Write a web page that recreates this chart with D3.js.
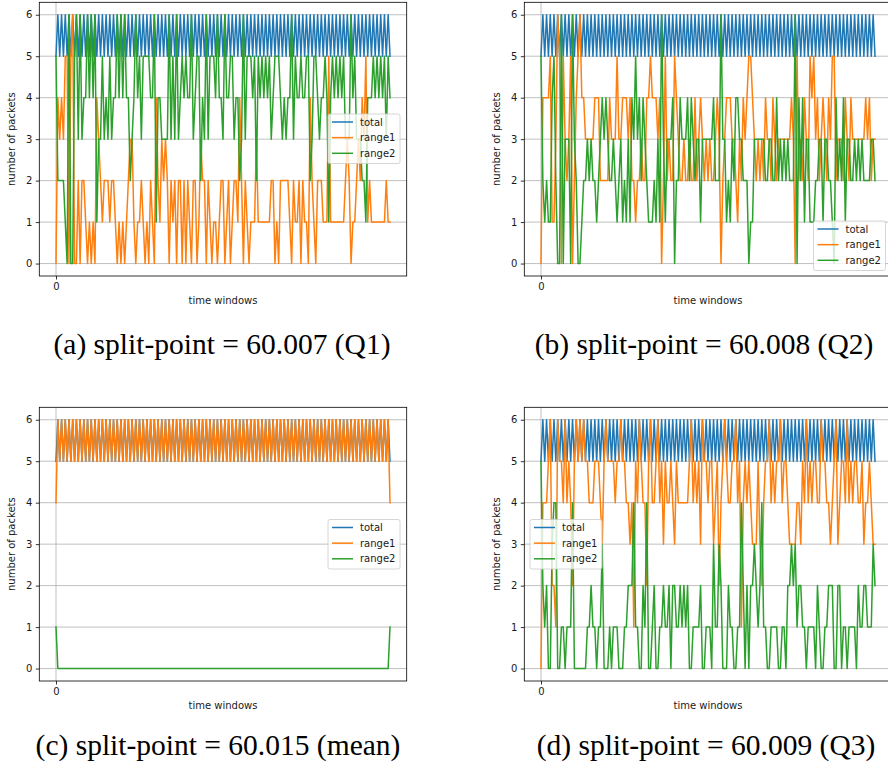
<!DOCTYPE html>
<html>
<head>
<meta charset="utf-8">
<script src="https://cdn.jsdelivr.net/npm/d3@7/dist/d3.min.js"></script>
<style>
  html, body { margin: 0; padding: 0; background: #ffffff; }
  svg { display: block; }
  .tick text { font-family: "DejaVu Sans", sans-serif; font-size: 10px; fill: #1a1a1a; }
</style>
</head>
<body>
<svg id="fig" width="888" height="769"></svg>
<script>
// ---- data: packets per time window ----
const total = [
  5,6,5,6,5,6,5,6,5,6, 5,6,5,6,5,6,5,6,5,6, 5,6,5,6,5,6,5,6,5,6,
  5,6,5,6,5,6,5,6,5,6, 5,6,5,6,5,6,5,6,5,6, 5,6,5,6,5,6,5,6,5,6,
  5,6,5,6,5,6,5,6,5,6, 5,6,5,6,5,6,5,6,5,6, 5,6,5,6,5,6,5,6,5,6,
  5,6,5,6,5,6,5,6,5,6, 5,6,5,6,5,6,5,6,5,6, 5,6,5,6,5,6,5,6,5,6,
  5,6,5,6,5,6,5,6,5,6, 5,6,5,6,5,6,5,6,5,6, 5,6,5,6,5,6,5,6,5,6,
  5,6,5,6,5,6,5,6,5,6, 5,6,5,6,5,6,5,6,5,6, 5,6,5,6,5,6,5,6,5,6,
  5
];

// (a) split-point = 60.007
const rangeA1 = [
  0,4,3,4,3,5,5,0,5,6, 0,0,2,0,2,2,1,0,1,0, 1,0,4,3,2,1,2,2,2,1,
  2,2,1,0,1,0,1,0,1,2, 3,3,1,0,1,1,2,1,0,1, 0,2,1,0,4,2,1,3,2,3,
  2,0,2,1,2,0,2,2,0,2, 0,2,1,0,2,2,0,1,3,2, 2,0,2,1,0,1,1,0,1,2,
  2,0,1,2,0,1,2,2,1,4, 2,0,2,1,0,1,1,1,3,1, 1,1,1,1,1,1,2,2,0,1,
  0,2,2,2,2,2,1,0,2,1, 1,2,0,2,1,1,0,4,2,1, 0,2,2,2,1,1,1,5,1,1,
  1,1,1,1,1,1,2,3,2,0, 1,1,2,3,2,4,3,5,1,2, 1,1,1,1,1,1,1,1,2,1,
  1
];
const rangeA2 = [
  5,2,2,2,2,1,0,6,0,0, 5,6,3,6,3,4,4,6,4,6, 4,6,1,3,3,5,3,4,3,5,
  3,4,4,6,4,6,4,6,4,4, 2,3,4,6,4,5,3,5,5,5, 5,4,4,6,1,4,4,3,3,3,
  3,6,3,5,3,6,3,4,5,4, 5,4,4,6,3,4,5,5,2,4, 3,6,3,5,5,5,4,6,4,4,
  3,6,4,4,5,5,3,4,4,2, 3,6,3,5,5,5,4,5,2,5, 4,5,4,5,4,5,3,4,5,5,
  5,4,3,4,3,4,4,6,3,5, 4,4,5,4,4,5,5,2,3,5, 5,4,3,4,4,5,4,1,4,5,
  4,5,4,5,4,5,3,3,3,6, 4,5,3,3,3,2,2,1,4,4, 4,5,4,5,4,5,4,5,3,5,
  4
];

// (b) split-point = 60.008
const rangeB1 = [
  0,4,4,4,4,5,1,1,3,6, 5,0,5,3,2,3,5,0,2,4, 5,6,4,4,3,3,3,3,3,4,
  4,4,2,2,2,2,2,4,3,3, 3,5,3,3,4,4,4,3,4,2, 2,1,2,2,3,2,2,4,4,5,
  4,4,4,3,4,0,2,5,2,3, 2,2,5,4,3,2,2,3,2,2, 3,2,2,4,2,3,4,3,2,3,
  2,3,2,2,3,4,3,0,2,3, 4,4,4,3,3,2,1,3,2,4, 3,4,5,5,4,3,2,3,2,3,
  2,4,3,3,2,4,3,2,3,3, 3,3,3,3,3,4,3,0,5,2, 3,2,4,3,2,5,4,5,3,4,
  2,3,4,3,2,4,3,5,5,2, 3,3,3,2,4,3,2,4,3,3, 3,3,3,3,3,4,3,4,2,3,
  3
];
const rangeB2 = [
  5,2,1,2,1,1,4,5,2,0, 0,6,0,3,3,3,0,6,3,2, 0,0,1,2,2,3,2,3,2,2,
  1,2,3,4,3,4,3,2,2,3, 2,1,2,3,1,2,1,3,1,4, 3,5,3,4,2,4,3,2,1,1,
  1,2,1,3,1,6,3,1,3,3, 3,4,0,2,2,4,3,3,3,4, 2,4,3,2,3,3,1,3,3,3,
  3,3,3,4,2,2,2,6,3,3, 1,2,1,3,2,4,4,3,3,2, 2,2,0,1,1,3,3,3,3,3,
  3,2,2,3,3,2,2,4,2,3, 2,3,2,3,2,2,2,6,0,4, 2,4,1,3,3,1,1,1,2,2,
  3,3,1,3,3,2,2,1,0,4, 2,3,2,4,1,3,3,2,2,3, 2,3,2,3,2,2,2,2,3,3,
  2
];

// (c) split-point = 60.015
const rangeC1 = [
  4,6,5,6,5,6,5,6,5,6, 5,6,5,6,5,6,5,6,5,6, 5,6,5,6,5,6,5,6,5,6,
  5,6,5,6,5,6,5,6,5,6, 5,6,5,6,5,6,5,6,5,6, 5,6,5,6,5,6,5,6,5,6,
  5,6,5,6,5,6,5,6,5,6, 5,6,5,6,5,6,5,6,5,6, 5,6,5,6,5,6,5,6,5,6,
  5,6,5,6,5,6,5,6,5,6, 5,6,5,6,5,6,5,6,5,6, 5,6,5,6,5,6,5,6,5,6,
  5,6,5,6,5,6,5,6,5,6, 5,6,5,6,5,6,5,6,5,6, 5,6,5,6,5,6,5,6,5,6,
  5,6,5,6,5,6,5,6,5,6, 5,6,5,6,5,6,5,6,5,6, 5,6,5,6,5,6,5,6,5,6,
  4
];
const rangeC2 = [
  1,0,0,0,0,0,0,0,0,0, 0,0,0,0,0,0,0,0,0,0, 0,0,0,0,0,0,0,0,0,0,
  0,0,0,0,0,0,0,0,0,0, 0,0,0,0,0,0,0,0,0,0, 0,0,0,0,0,0,0,0,0,0,
  0,0,0,0,0,0,0,0,0,0, 0,0,0,0,0,0,0,0,0,0, 0,0,0,0,0,0,0,0,0,0,
  0,0,0,0,0,0,0,0,0,0, 0,0,0,0,0,0,0,0,0,0, 0,0,0,0,0,0,0,0,0,0,
  0,0,0,0,0,0,0,0,0,0, 0,0,0,0,0,0,0,0,0,0, 0,0,0,0,0,0,0,0,0,0,
  0,0,0,0,0,0,0,0,0,0, 0,0,0,0,0,0,0,0,0,0, 0,0,0,0,0,0,0,0,0,0,
  1
];

// (d) split-point = 60.009
const rangeD1 = [
  0,4,4,4,5,6,2,2,1,6, 5,5,4,6,4,5,4,2,5,6, 5,6,5,6,5,5,4,4,4,5,
  5,5,4,3,5,6,5,5,5,5, 4,5,5,6,5,5,4,4,3,4, 1,5,4,6,5,4,4,2,5,6,
  4,4,5,6,4,5,3,5,4,4, 5,4,3,5,4,4,4,4,4,4, 5,6,4,5,4,5,3,6,5,5,
  4,5,5,3,4,5,2,4,5,6, 5,4,4,5,5,6,4,5,1,4, 5,4,5,4,3,3,3,5,3,2,
  4,5,5,6,4,5,4,5,5,6, 4,5,5,4,3,3,3,3,4,4, 3,5,4,6,4,5,4,5,5,4,
  4,6,5,5,4,4,3,4,5,6, 3,4,5,5,4,6,4,5,4,5, 5,4,4,5,3,4,4,5,4,3,
  3
];
const rangeD2 = [
  5,2,1,2,0,0,3,4,4,0, 0,1,1,0,1,1,1,4,0,0, 0,0,0,0,0,1,1,2,1,1,
  0,1,1,3,0,0,0,1,0,1, 1,1,0,0,0,1,1,2,2,2, 4,1,1,0,0,2,1,4,0,0,
  1,2,0,0,1,1,2,1,1,2, 0,2,2,1,1,2,1,2,1,2, 0,0,1,1,1,1,2,0,0,1,
  1,1,0,3,1,1,3,2,0,0, 0,2,1,1,0,0,1,1,4,2, 0,2,0,2,2,3,2,1,2,4,
  1,1,0,0,1,1,1,1,0,0, 1,1,0,2,2,3,2,3,1,2, 2,1,1,0,1,1,1,1,0,2,
  1,0,0,1,1,2,2,2,0,0, 2,2,0,1,1,0,1,1,1,1, 0,2,1,1,2,2,1,1,1,3,
  2
];

const seriesNames  = ["total", "range1", "range2"];
const seriesColors = ["#1f77b4", "#ff7f0e", "#2ca02c"];
const yTicks = [0, 1, 2, 3, 4, 5, 6];
const xTicks = [0];
const captions = [
  "(a) split-point = 60.007 (Q1)",
  "(b) split-point = 60.008 (Q2)",
  "(c) split-point = 60.015 (mean)",
  "(d) split-point = 60.009 (Q3)"
];

// ---- layout ----
const axW = 367.4, axH = 273.7;
const panels = [
  { left: 39.3,  top: 2.3,   series: [total, rangeA1, rangeA2], caption: captions[0], capX: 222, capY: 354, legend: [328, 114] },
  { left: 524.3, top: 2.3,   series: [total, rangeB1, rangeB2], caption: captions[1], capX: 704, capY: 354, legend: [813.5, 221] },
  { left: 39.3,  top: 407.3, series: [total, rangeC1, rangeC2], caption: captions[2], capX: 218, capY: 755, legend: [328, 519.5] },
  { left: 524.3, top: 407.3, series: [total, rangeD1, rangeD2], caption: captions[3], capX: 706, capY: 755, legend: [530, 519.5] }
];

const svg = d3.select("#fig");
svg.append("rect").attr("width", 888).attr("height", 769).attr("fill", "#ffffff");

panels.forEach(p => {
  const n = p.series[0].length;
  const pad = 0.05 * (n - 1);
  const x = d3.scaleLinear().domain([-pad, (n - 1) + pad]).range([0, axW]);
  const y = d3.scaleLinear().domain([-0.3, 6.3]).range([axH, 0]);

  const g = svg.append("g").attr("transform", `translate(${p.left},${p.top})`);

  // grid
  g.append("g").selectAll("line").data(yTicks).join("line")
    .attr("x1", 0).attr("x2", axW)
    .attr("y1", d => y(d)).attr("y2", d => y(d))
    .attr("stroke", "#b0b0b0").attr("stroke-width", 0.8);
  g.append("g").selectAll("line").data(xTicks).join("line")
    .attr("x1", d => x(d)).attr("x2", d => x(d))
    .attr("y1", 0).attr("y2", axH)
    .attr("stroke", "#b0b0b0").attr("stroke-width", 0.8);

  // series: total, range1, range2 (later ones drawn on top)
  const line = d3.line().x((d, i) => x(i)).y(d => y(d));
  p.series.forEach((s, k) => {
    g.append("path").datum(s)
      .attr("d", line)
      .attr("fill", "none")
      .attr("stroke", seriesColors[k])
      .attr("stroke-width", 1.5)
      .attr("stroke-linejoin", "round")
      .attr("stroke-linecap", "square");
  });

  // axes
  const ya = g.append("g").call(d3.axisLeft(y).tickValues(yTicks).tickFormat(d3.format("d")).tickSize(3.5).tickPadding(3.5));
  const xa = g.append("g").attr("transform", `translate(0,${axH})`)
    .call(d3.axisBottom(x).tickValues(xTicks).tickFormat(d3.format("d")).tickSize(3.5).tickPadding(3.5));
  [ya, xa].forEach(a => {
    a.select(".domain").remove();
    a.selectAll(".tick line").attr("stroke", "#000").attr("stroke-width", 0.8);
    a.selectAll(".tick text").attr("font-family", "DejaVu Sans, sans-serif").attr("font-size", 10);
  });

  // frame
  g.append("rect").attr("x", 0).attr("y", 0).attr("width", axW).attr("height", axH)
    .attr("fill", "none").attr("stroke", "#000").attr("stroke-width", 0.8);

  // axis labels
  g.append("text")
    .attr("transform", `translate(${-24},${axH / 2}) rotate(-90)`)
    .attr("text-anchor", "middle")
    .attr("font-family", "DejaVu Sans, sans-serif").attr("font-size", 10).attr("fill", "#1a1a1a")
    .text("number of packets");
  g.append("text")
    .attr("x", axW / 2).attr("y", axH + 28)
    .attr("text-anchor", "middle")
    .attr("font-family", "DejaVu Sans, sans-serif").attr("font-size", 10).attr("fill", "#1a1a1a")
    .text("time windows");

  // legend
  const [lx, ly] = p.legend;
  const lg = svg.append("g").attr("transform", `translate(${lx},${ly})`);
  lg.append("rect").attr("width", 72).attr("height", 49.5).attr("rx", 2)
    .attr("fill", "#ffffff").attr("fill-opacity", 0.8)
    .attr("stroke", "#cccccc").attr("stroke-width", 0.8);
  seriesNames.forEach((name, k) => {
    const ry = 8 + k * 15.65;
    lg.append("line").attr("x1", 4).attr("x2", 25).attr("y1", ry).attr("y2", ry)
      .attr("stroke", seriesColors[k]).attr("stroke-width", 1.5);
    lg.append("text").attr("x", 32).attr("y", ry).attr("dy", "0.35em")
      .attr("font-family", "DejaVu Sans, sans-serif").attr("font-size", 10).attr("fill", "#1a1a1a")
      .text(name);
  });

  // caption
  svg.append("text")
    .attr("x", p.capX).attr("y", p.capY)
    .attr("text-anchor", "middle")
    .attr("font-family", "Liberation Serif, serif").attr("font-size", 29.5).attr("fill", "#000")
    .text(p.caption);
});
</script>
</body>
</html>
